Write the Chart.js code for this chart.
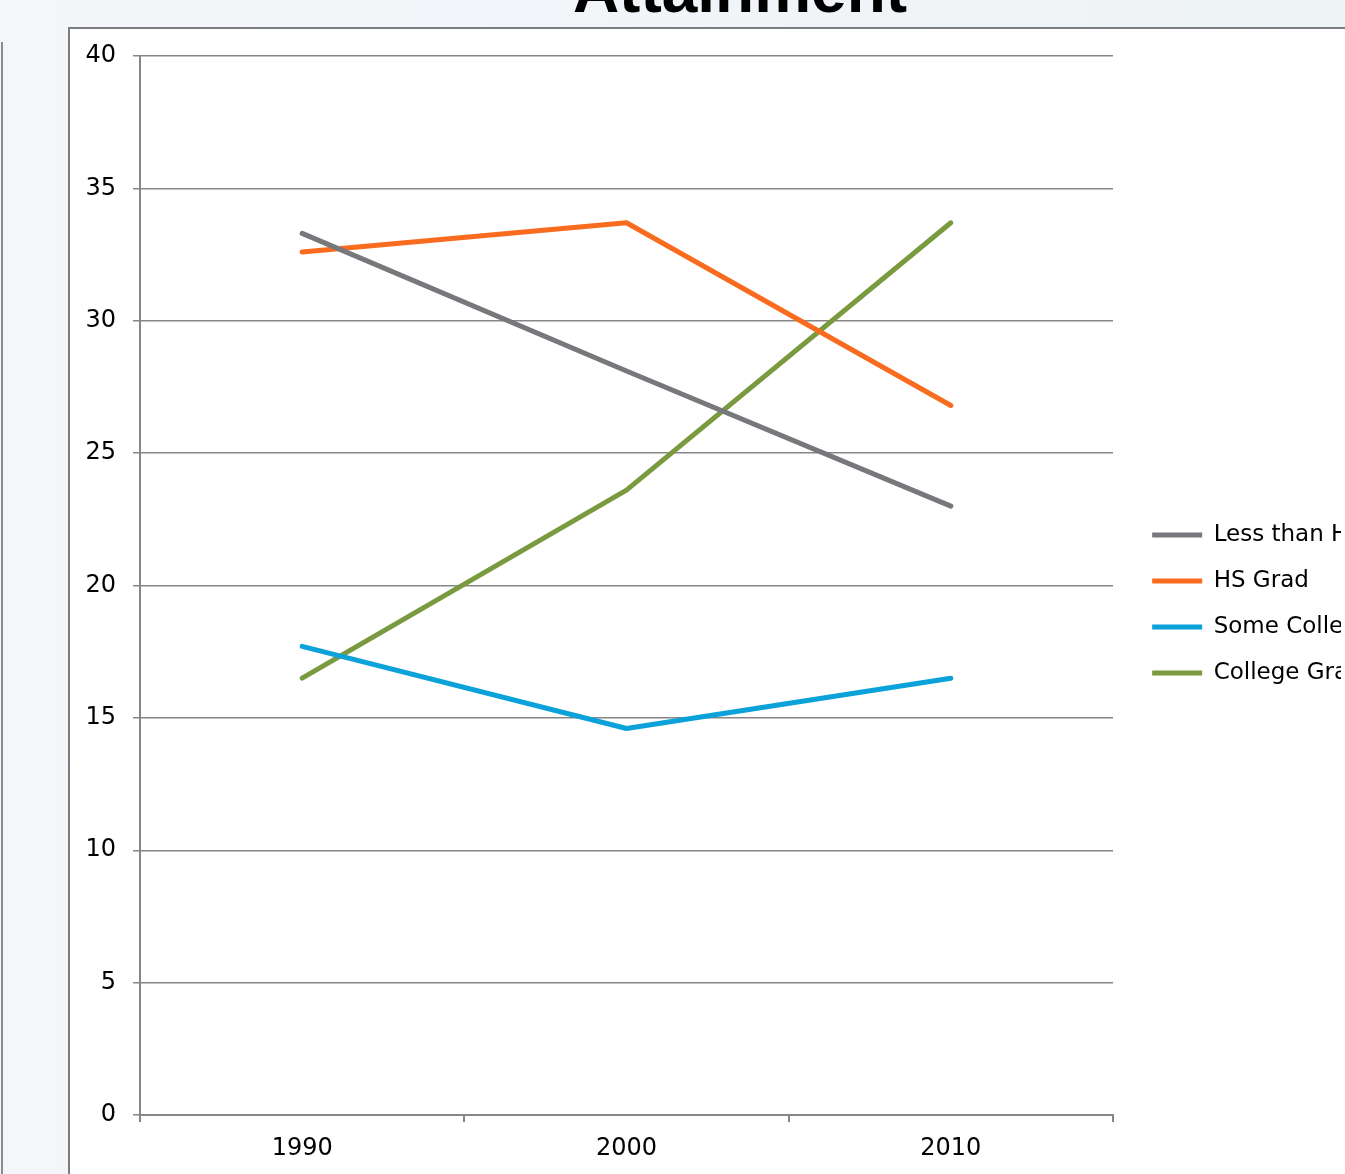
<!DOCTYPE html>
<html>
<head>
<meta charset="utf-8">
<script src="https://cdn.jsdelivr.net/npm/chart.js@4.4.1/dist/chart.umd.min.js"></script>
<style>
  html, body { margin: 0; padding: 0; }
  body {
    width: 1345px; height: 1174px; overflow: hidden; position: relative;
    background: linear-gradient(90deg, #f4f6fa, #eef3f6);
  }
  #leftEdge {
    position: absolute; left: 1px; top: 42px; width: 2px; height: 1200px;
    background: #8a8c90;
  }
  #title {
    position: absolute; left: 0; width: 1480px; top: -47px;
    text-align: center; font: bold 64px "Liberation Sans", Arial, sans-serif;
    color: #000; white-space: nowrap;
  }
  #box {
    position: absolute; left: 68px; top: 27px; width: 1400px; height: 1200px;
    background: #fff; border: 2px solid #7b7d81; box-sizing: border-box;
  }
  #grafico { position: absolute; left: 70px; top: 29px; }
</style>
</head>
<body>
<div id="leftEdge"></div>
<div id="title">Attainment</div>
<div id="box"></div>
<canvas id="grafico" width="1271" height="1146"></canvas>
<script>
var years = ['1990', '2000', '2010'];
var seriesNames = ['Less than HS', 'HS Grad', 'Some College', 'College Grad'];
var lessThanHS = [33.3, 28.1, 23.0];
var hsGrad = [32.6, 33.7, 26.8];
var someCollege = [17.7, 14.6, 16.5];
var collegeGrad = [16.5, 23.6, 33.7];
var colores = ['#77787c', '#f96b1e', '#0ba1d9', '#7a9a40'];

var font = 'DejaVu Sans';
var gridColor = '#868686';

function serie(i, datos) {
    return {
        label: seriesNames[i],
        data: datos,
        borderColor: colores[i],
        backgroundColor: colores[i],
        borderWidth: 5,
        borderCapStyle: 'round',
        borderJoinStyle: 'round',
        pointRadius: 0,
        pointHoverRadius: 0,
        pointStyle: 'line',
        tension: 0,
        fill: false
    };
}

// ejes vacios solo para reservar espacio
function hueco(pos, tam) {
    return {
        position: pos,
        display: true,
        grid: { display: false },
        border: { display: false },
        ticks: { display: false },
        afterFit: tam
    };
}

var ctx = document.getElementById('grafico').getContext('2d');
var grafico = new Chart(ctx, {
    type: 'line',
    data: {
        labels: years,
        datasets: [
            serie(0, lessThanHS),
            serie(1, hsGrad),
            serie(2, someCollege),
            serie(3, collegeGrad)
        ]
    },
    options: {
        responsive: false,
        animation: false,
        events: [],
        layout: { padding: { top: 4, bottom: 0, left: 0, right: 0 } },
        plugins: {
            tooltip: { enabled: false },
            title: { display: false },
            legend: {
                position: 'right',
                align: 'center',
                labels: {
                    usePointStyle: true,
                    pointStyle: 'line',
                    pointStyleWidth: 50,
                    boxHeight: 23,
                    padding: 23,
                    color: '#000',
                    font: { family: font, size: 23 }
                }
            }
        },
        scales: {
            x: {
                offset: true,
                grid: {
                    offset: true,
                    drawOnChartArea: false,
                    drawTicks: true,
                    tickLength: 7,
                    color: gridColor,
                    lineWidth: 2
                },
                border: { color: gridColor, width: 2 },
                ticks: {
                    color: '#000',
                    padding: 12,
                    maxRotation: 0,
                    font: { family: font, size: 24 }
                },
                afterFit: function (s) { s.height = 60; }
            },
            y: {
                min: 0,
                max: 40,
                grid: {
                    color: gridColor,
                    lineWidth: 1.5,
                    tickLength: 7
                },
                border: { color: gridColor, width: 2 },
                ticks: {
                    stepSize: 5,
                    color: '#000',
                    padding: 17,
                    font: { family: font, size: 24 }
                },
                afterFit: function (s) {
                    s.width = 70;
                    s.paddingTop = 10;
                    s.paddingBottom = 10;
                }
            },
            arriba: hueco('top', function (s) { s.height = 23; }),
            derecha: hueco('right', function (s) {
                s.width = s.chart.width - s.chart.legend.width - 1043;
            })
        }
    }
});
</script>
</body>
</html>
